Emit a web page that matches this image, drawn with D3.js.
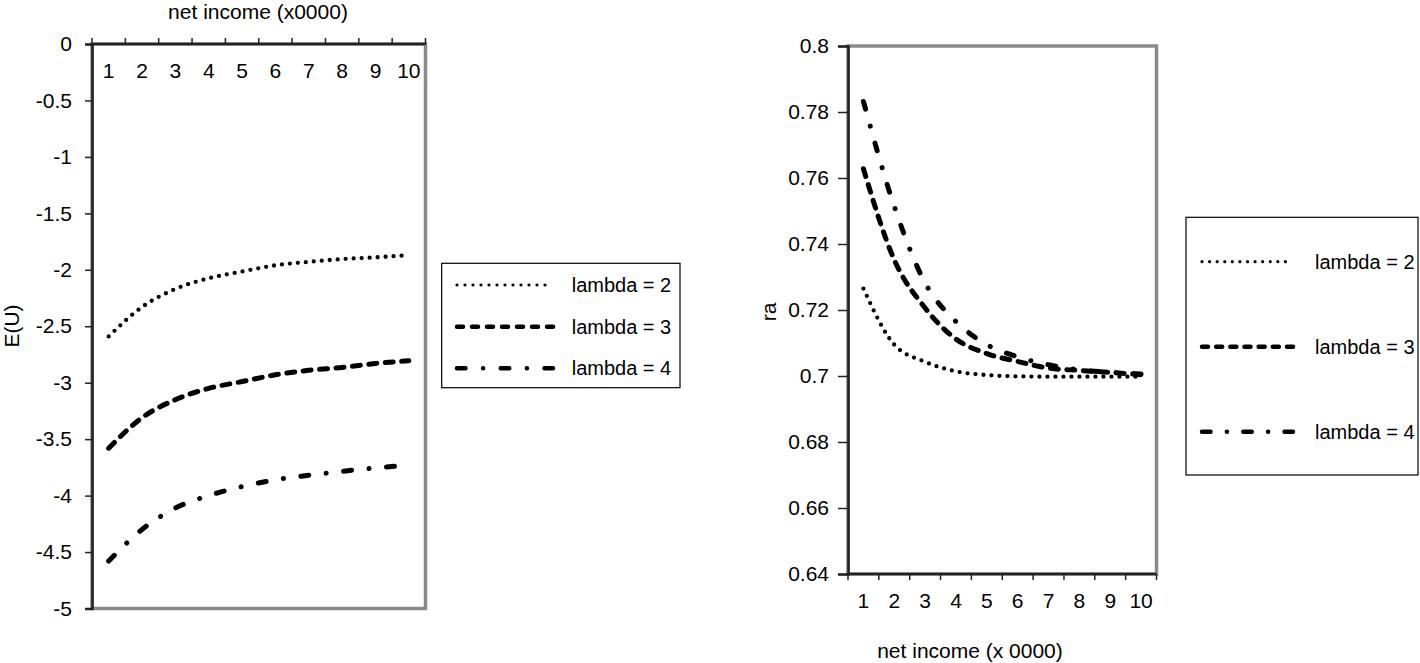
<!DOCTYPE html>
<html>
<head>
<meta charset="utf-8">
<script src="https://cdn.jsdelivr.net/npm/d3@7"></script>
<style>
  html, body { margin: 0; padding: 0; background: #fff; }
  svg { display: block; font-family: "Liberation Sans", Arial, sans-serif; }
</style>
</head>
<body>
<svg id="chart" width="1420" height="663"></svg>
<script>
// ---------- data ----------
const categories = [1, 2, 3, 4, 5, 6, 7, 8, 9, 10];
const seriesNames = ["lambda = 2", "lambda = 3", "lambda = 4"];

// left chart: expected utility E(U)
const eu2 = [-2.59, -2.33, -2.17, -2.075, -2.015, -1.96, -1.93, -1.905, -1.89, -1.87];
const eu3 = [-3.58, -3.31, -3.15, -3.05, -2.99, -2.93, -2.89, -2.865, -2.83, -2.805];
const eu4 = [-4.58, -4.30, -4.11, -4.00, -3.92, -3.86, -3.82, -3.785, -3.755, -3.73];
const euTicks = [0, -0.5, -1, -1.5, -2, -2.5, -3, -3.5, -4, -4.5, -5];

// right chart: ra
const ra2 = [0.7265, 0.7095, 0.7043, 0.7014, 0.7003, 0.6999, 0.6998, 0.6998, 0.6998, 0.6998];
const ra3 = [0.7628, 0.7352, 0.7206, 0.7112, 0.7068, 0.7044, 0.7024, 0.7017, 0.7011, 0.7004];
const ra4 = [0.7832, 0.7514, 0.7282, 0.7165, 0.7095, 0.7058, 0.7034, 0.7019, 0.7011, 0.7006];
const raTicks = [0.64, 0.66, 0.68, 0.7, 0.72, 0.74, 0.76, 0.78, 0.8];

const leftTitle = "net income (x0000)";
const rightTitle = "net income (x 0000)";
const leftYTitle = "E(U)";
const rightYTitle = "ra";

// ---------- styles ----------
const lineStyles = [
  { width: 4.3, dash: "0,8", cap: "round", legendWidth: 3.2 },
  { width: 5, dash: "8,8.5", cap: "round", legendWidth: 4.5 },
  { width: 5, dash: "8,17.5,0.1,17.5", cap: "round", legendWidth: 4.5 }
];
// legend dash patterns fitted to the sample length (13 dots / 7 dashes / 3 dashes + 2 dots)
function legendDash(i, len) {
  if (i === 0) return `0,${len / 12}`;
  if (i === 1) return `6,${(len - 42) / 6}`;
  const p = (len - 8.5) / 2;
  const gap = (p - 8.5 - 0.1) / 2;
  return `8.5,${gap},0.1,${gap}`;
}

const svg = d3.select("#chart");
const FONT = 21;

function drawChart(cfg) {
  const g = svg.append("g");
  const x = d3.scaleBand().domain(categories).range([cfg.left, cfg.right]);
  const y = d3.scaleLinear().domain(cfg.yDomain).range([cfg.bottom, cfg.top]);

  // plot-area border
  g.append("rect")
    .attr("x", cfg.left).attr("y", cfg.top)
    .attr("width", cfg.right - cfg.left).attr("height", cfg.bottom - cfg.top)
    .attr("fill", "none").attr("stroke", "#8a8a8a").attr("stroke-width", 3.5);

  // y axis
  const yAxis = d3.axisLeft(y).tickValues(cfg.yTicks).tickSize(cfg.yTickSize)
    .tickPadding(cfg.yTickPad).tickFormat(d => String(d));
  const ya = g.append("g").attr("transform", `translate(${cfg.left},0)`).call(yAxis);
  ya.select(".domain").attr("stroke", "#222").attr("stroke-width", 2.5);
  ya.selectAll(".tick line").attr("stroke", "#222").attr("stroke-width", 1.5);
  ya.selectAll(".tick text").attr("font-size", FONT).attr("fill", "#000")
    .attr("font-family", "Liberation Sans, Arial, sans-serif");

  // category axis (ticks at band edges, labels at band centers)
  const ax = cfg.xAxisY;
  g.append("line").attr("x1", cfg.left).attr("x2", cfg.right)
    .attr("y1", ax).attr("y2", ax).attr("stroke", "#222").attr("stroke-width", 2.5);
  const edges = categories.map(c => x(c)).concat([x(categories[categories.length - 1]) + x.bandwidth()]);
  g.selectAll(".xtick").data(edges).enter().append("line")
    .attr("x1", d => d).attr("x2", d => d)
    .attr("y1", ax).attr("y2", ax + cfg.xTickDir * 6)
    .attr("stroke", "#222").attr("stroke-width", 1.5);
  g.selectAll(".xlab").data(categories).enter().append("text")
    .attr("x", d => x(d) + x.bandwidth() / 2)
    .attr("y", cfg.xLabelY).attr("dy", "0.35em")
    .attr("text-anchor", "middle").attr("font-size", FONT).text(d => d);

  // lines
  const line = d3.line()
    .x((d, i) => x(categories[i]) + x.bandwidth() / 2)
    .y(d => y(d))
    .curve(d3.curveMonotoneX);
  cfg.series.forEach((s, i) => {
    g.append("path").datum(s).attr("d", line)
      .attr("fill", "none").attr("stroke", "#000")
      .attr("stroke-width", lineStyles[i].width)
      .attr("stroke-dasharray", lineStyles[i].dash)
      .attr("stroke-linecap", lineStyles[i].cap);
  });

  // titles
  g.append("text").attr("x", cfg.xTitlePos[0]).attr("y", cfg.xTitlePos[1]).attr("dy", "0.35em")
    .attr("text-anchor", "middle").attr("font-size", FONT).text(cfg.xTitle);
  g.append("text")
    .attr("transform", `translate(${cfg.yTitlePos[0]},${cfg.yTitlePos[1]}) rotate(-90)`)
    .attr("dy", "0.35em").attr("text-anchor", "middle").attr("font-size", FONT).text(cfg.yTitle);

  // legend
  const L = cfg.legend;
  g.append("rect").attr("x", L.x).attr("y", L.y).attr("width", L.w).attr("height", L.h)
    .attr("fill", "#fff").attr("stroke", "#000").attr("stroke-width", 1.2);
  seriesNames.forEach((name, i) => {
    const ry = L.rows[i];
    g.append("line").attr("x1", L.lx1).attr("x2", L.lx2).attr("y1", ry).attr("y2", ry)
      .attr("stroke", "#000").attr("stroke-width", lineStyles[i].legendWidth)
      .attr("stroke-dasharray", legendDash(i, L.lx2 - L.lx1))
      .attr("stroke-linecap", lineStyles[i].cap);
    g.append("text").attr("x", L.tx).attr("y", ry).attr("dy", "0.35em")
      .attr("font-size", 20).text(name);
  });
}

drawChart({
  left: 92, right: 425.5, top: 44, bottom: 608.5,
  yDomain: [-5, 0], yTicks: euTicks, yTickSize: 7, yTickPad: 13,
  xAxisY: 44, xTickDir: -1, xLabelY: 71,
  series: [eu2, eu3, eu4],
  xTitle: leftTitle, xTitlePos: [258, 12],
  yTitle: leftYTitle, yTitlePos: [12, 326],
  legend: { x: 441.7, y: 263.3, w: 238.3, h: 124.4, lx1: 457, lx2: 553, tx: 571.7, rows: [285, 326.7, 368.3] }
});

drawChart({
  left: 848, right: 1156.5, top: 46, bottom: 574,
  yDomain: [0.64, 0.8], yTicks: raTicks, yTickSize: 10, yTickPad: 9,
  xAxisY: 574, xTickDir: 1, xLabelY: 601,
  series: [ra2, ra3, ra4],
  xTitle: rightTitle, xTitlePos: [970, 651],
  yTitle: rightYTitle, yTitlePos: [769, 312],
  legend: { x: 1186, y: 217.3, w: 232, h: 257.7, lx1: 1202, lx2: 1293, tx: 1315, rows: [261.7, 346.7, 431.7] }
});
</script>
</body>
</html>
